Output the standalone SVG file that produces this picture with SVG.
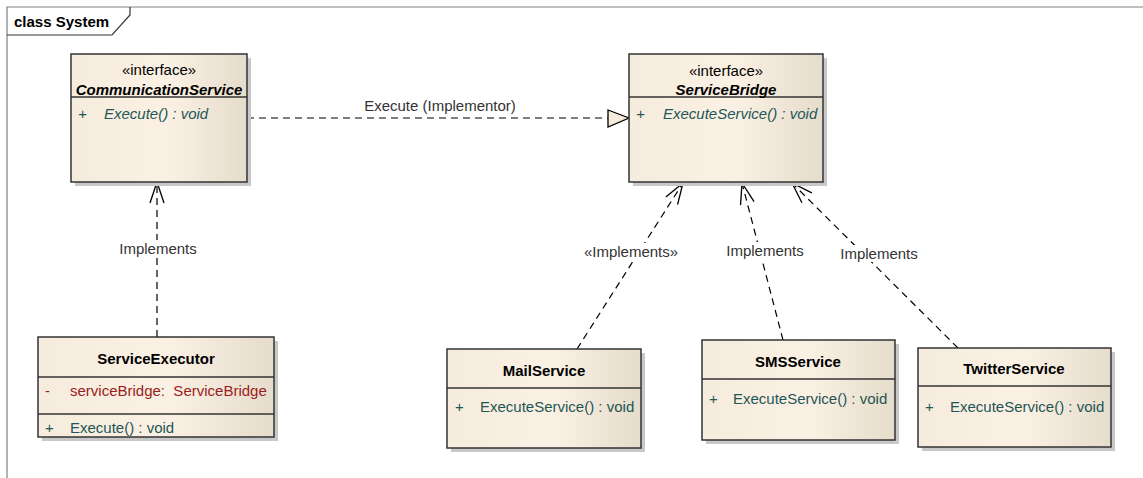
<svg xmlns="http://www.w3.org/2000/svg" width="1143" height="478" viewBox="0 0 1143 478">
<defs>
<linearGradient id="fill" x1="0" y1="0" x2="1" y2="0">
<stop offset="0" stop-color="#F6ECDD"/>
<stop offset="0.55" stop-color="#FAF1E4"/>
<stop offset="1" stop-color="#E6DCCB"/>
</linearGradient>
<marker id="open" markerUnits="userSpaceOnUse" markerWidth="30" markerHeight="20" refX="0" refY="0" viewBox="-24 -10 26 20" orient="auto" overflow="visible">
<path d="M-21,-7 L0,0 L-21,7" fill="none" stroke="#000" stroke-width="1.3"/>
</marker>
</defs>
<style>
text{font-family:"Liberation Sans",Arial,sans-serif;font-size:15px}
.box{fill:url(#fill);stroke:#333;stroke-width:1.5}
.sh{fill:#C8C8C8}
.div{stroke:#333;stroke-width:1.5}
.nm{font-weight:bold;fill:#000;text-anchor:middle}
.st{fill:#000;text-anchor:middle}
.op{fill:#1F5656}
.at{fill:#9B1C1C;white-space:pre}
.it{font-style:italic}
.dash{fill:none;stroke:#000;stroke-width:1.2;stroke-dasharray:7 5}
.lbl{fill:#333;text-anchor:middle}
.bg{fill:#fff}
</style>
<rect width="1143" height="478" fill="#fff"/>
<g id="frame">
<path d="M7,478 L7,7 L1143,7" fill="none" stroke="#808080" stroke-width="1.2"/>
<path d="M7,35 L112,35 L130,15 L130,7" fill="none" stroke="#333" stroke-width="1.2"/>
<text x="14" y="27" style="font-weight:bold">class System</text>
</g>
<g id="connectors">
<line class="dash" x1="247" y1="118" x2="608" y2="118"/>
<path d="M608,110 L629,118 L608,127 Z" fill="#F6ECDD" stroke="#000" stroke-width="1.3"/>
<text class="lbl" x="440" y="111">Execute (Implementor)</text>
<line class="dash" x1="157" y1="337" x2="157" y2="182" marker-end="url(#open)"/>
<rect class="bg" x="118" y="240" width="80" height="17"/>
<text class="lbl" x="158" y="254">Implements</text>
<line class="dash" x1="577" y1="349" x2="683" y2="183" marker-end="url(#open)"/>
<rect class="bg" x="583" y="243" width="96" height="17"/>
<text class="lbl" x="631" y="257">«Implements»</text>
<line class="dash" x1="783" y1="340" x2="742" y2="183" marker-end="url(#open)"/>
<rect class="bg" x="725" y="242" width="80" height="17"/>
<text class="lbl" x="765" y="256">Implements</text>
<line class="dash" x1="958" y1="348" x2="792" y2="183" marker-end="url(#open)"/>
<rect class="bg" x="839" y="245" width="80" height="17"/>
<text class="lbl" x="879" y="259">Implements</text>
</g>
<g id="CommunicationService">
<rect class="sh" x="75" y="58" width="176" height="128"/>
<rect class="box" x="71" y="54" width="176" height="128"/>
<line class="div" x1="71" y1="97" x2="247" y2="97"/>
<text class="st" x="159" y="75">«interface»</text>
<text class="nm it" x="159" y="95">CommunicationService</text>
<text class="op it" x="78" y="119">+</text>
<text class="op it" x="104" y="119">Execute() : void</text>
</g>
<g id="ServiceBridge">
<rect class="sh" x="633" y="58" width="194" height="128"/>
<rect class="box" x="629" y="54" width="194" height="128"/>
<line class="div" x1="629" y1="97" x2="823" y2="97"/>
<text class="st" x="726" y="76">«interface»</text>
<text class="nm it" x="726" y="95">ServiceBridge</text>
<text class="op it" x="636" y="119">+</text>
<text class="op it" x="663" y="119">ExecuteService() : void</text>
</g>
<g id="ServiceExecutor">
<rect class="sh" x="42" y="341" width="236" height="100"/>
<rect class="box" x="38" y="337" width="236" height="100"/>
<line class="div" x1="38" y1="377" x2="274" y2="377"/>
<line class="div" x1="38" y1="414" x2="274" y2="414"/>
<text class="nm" x="156" y="364">ServiceExecutor</text>
<text class="at" x="45" y="396">-</text>
<text class="at" x="70" y="396" xml:space="preserve">serviceBridge:  ServiceBridge</text>
<text class="op" x="45" y="433">+</text>
<text class="op" x="70" y="433">Execute() : void</text>
</g>
<g id="MailService">
<rect class="sh" x="451" y="353" width="194" height="99"/>
<rect class="box" x="447" y="349" width="194" height="99"/>
<line class="div" x1="447" y1="388" x2="641" y2="388"/>
<text class="nm" x="544" y="376">MailService</text>
<text class="op" x="455" y="412">+</text>
<text class="op" x="480" y="412">ExecuteService() : void</text>
</g>
<g id="SMSService">
<rect class="sh" x="706" y="344" width="193" height="100"/>
<rect class="box" x="702" y="340" width="193" height="100"/>
<line class="div" x1="702" y1="379" x2="895" y2="379"/>
<text class="nm" x="798" y="367">SMSService</text>
<text class="op" x="709" y="404">+</text>
<text class="op" x="733" y="404">ExecuteService() : void</text>
</g>
<g id="TwitterService">
<rect class="sh" x="922" y="352" width="193" height="99"/>
<rect class="box" x="918" y="348" width="193" height="99"/>
<line class="div" x1="918" y1="386" x2="1111" y2="386"/>
<text class="nm" x="1014" y="374">TwitterService</text>
<text class="op" x="925" y="412">+</text>
<text class="op" x="950" y="412">ExecuteService() : void</text>
</g>
</svg>
